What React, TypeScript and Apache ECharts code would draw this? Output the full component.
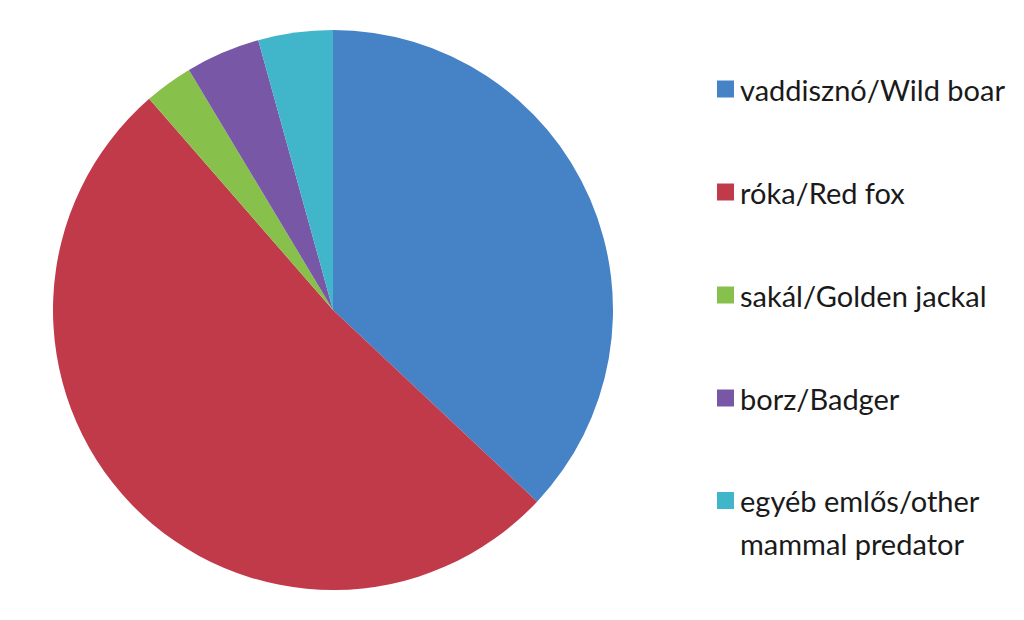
import React, { useEffect, useRef } from "react";
import * as echarts from "echarts";

const categories = [
  "vaddisznó/Wild boar",
  "róka/Red fox",
  "sakál/Golden jackal",
  "borz/Badger",
  "egyéb emlős/other mammal predator",
];
const values = [37.0, 51.6, 2.8, 4.3, 4.3];
const colors = ["#4682c6", "#c13a4a", "#87c04a", "#7857a7", "#41b5c9"];

export default function App() {
  const ref = useRef<HTMLDivElement>(null);
  useEffect(() => {
    if (!ref.current) return;
    const chart = echarts.init(ref.current, undefined, { renderer: "svg" });
    const font = "Lato, 'Open Sans', sans-serif";
    chart.setOption({
      animation: false,
      color: colors,
      legend: [
        {
          orient: "vertical",
          left: 704,
          top: 60,
          itemWidth: 17,
          itemHeight: 17,
          itemGap: 71,
          icon: "rect",
          selectedMode: false,
          data: categories.slice(0, 4),
          textStyle: { fontFamily: font, fontSize: 29, color: "#1a1a1a", lineHeight: 32, padding: [0, 0, 0, 1] },
        },
        {
          orient: "vertical",
          left: 704,
          top: 466,
          itemWidth: 17,
          itemHeight: 60,
          icon: "path://M0 0 H1 V1 H0 Z M0 3.53 L0.001 3.53",
          selectedMode: false,
          data: categories.slice(4),
          formatter: () => "egyéb emlős/other\nmammal predator",
          textStyle: { fontFamily: font, fontSize: 29, color: "#1a1a1a", lineHeight: 43, padding: [0, 0, 0, 1] },
        },
      ],
      series: [
        {
          type: "pie",
          center: [325, 302],
          radius: 280,
          startAngle: 90,
          clockwise: true,
          label: { show: false },
          labelLine: { show: false },
          emphasis: { disabled: true },
          itemStyle: { borderWidth: 0 },
          data: categories.map((name, i) => ({ name, value: values[i] })),
        },
      ],
    });
    return () => chart.dispose();
  }, []);
  return <div ref={ref} style={{ width: 1008, height: 604 }} />;
}
